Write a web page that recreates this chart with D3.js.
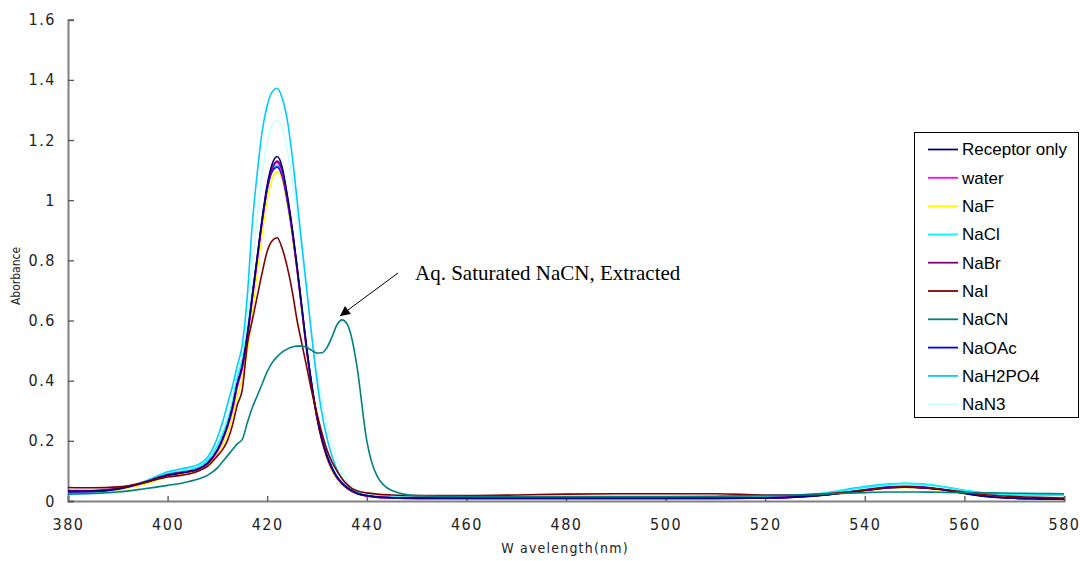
<!DOCTYPE html>
<html>
<head>
<meta charset="utf-8">
<script src="https://cdn.jsdelivr.net/npm/d3@7"></script>
<style>
  html, body { margin: 0; padding: 0; background: #fff; }
  svg { display: block; }
</style>
</head>
<body>
<svg id="chart" width="1080" height="561"></svg>
<script>
// ---------------- DATA ----------------
const wavelengths = [380,385,390,395,400,403,406,408,410,411,412,413,414,415,416,417,418,419,420,421,422,423,424,425,426,427,428,429,430,431,432,433,434,435,436,437,438,440,442,445,450,460,470,480,490,500,510,520,525,530,535,540,545,548,550,555,560,565,570,575,580];

const receptorOnly = [0.032,0.033,0.040,0.060,0.085,0.094,0.105,0.125,0.170,0.205,0.250,0.310,0.390,0.450,0.550,0.680,0.810,0.940,1.050,1.120,1.145,1.110,1.020,0.910,0.780,0.640,0.500,0.380,0.280,0.205,0.150,0.110,0.080,0.060,0.045,0.034,0.026,0.018,0.014,0.011,0.010,0.009,0.009,0.009,0.009,0.009,0.009,0.010,0.012,0.017,0.025,0.035,0.044,0.046,0.045,0.038,0.025,0.014,0.009,0.007,0.006];
const water = [0.034,0.034,0.041,0.060,0.085,0.094,0.104,0.122,0.165,0.200,0.245,0.300,0.380,0.440,0.540,0.670,0.800,0.930,1.040,1.105,1.125,1.090,1.010,0.900,0.770,0.630,0.490,0.375,0.275,0.200,0.145,0.105,0.077,0.057,0.043,0.032,0.025,0.017,0.013,0.011,0.010,0.010,0.010,0.010,0.010,0.010,0.010,0.011,0.013,0.018,0.026,0.036,0.045,0.047,0.046,0.039,0.026,0.015,0.010,0.008,0.007];
const naF = [0.030,0.031,0.037,0.055,0.080,0.090,0.100,0.115,0.155,0.185,0.225,0.280,0.350,0.410,0.500,0.620,0.760,0.890,1.000,1.070,1.095,1.070,0.990,0.885,0.760,0.620,0.485,0.370,0.270,0.195,0.140,0.100,0.073,0.054,0.040,0.030,0.023,0.016,0.012,0.010,0.009,0.009,0.009,0.009,0.009,0.009,0.009,0.010,0.012,0.016,0.024,0.034,0.043,0.045,0.044,0.037,0.024,0.014,0.009,0.007,0.006];
const naCl = [0.028,0.030,0.040,0.063,0.092,0.100,0.112,0.135,0.185,0.220,0.265,0.325,0.410,0.470,0.565,0.690,0.815,0.940,1.045,1.100,1.115,1.085,1.005,0.900,0.775,0.640,0.500,0.385,0.285,0.210,0.155,0.113,0.083,0.062,0.047,0.036,0.028,0.020,0.016,0.013,0.012,0.012,0.012,0.012,0.012,0.012,0.012,0.013,0.016,0.022,0.033,0.045,0.055,0.058,0.057,0.049,0.035,0.025,0.021,0.020,0.020];
const naBr = [0.035,0.035,0.042,0.062,0.088,0.096,0.106,0.126,0.170,0.205,0.250,0.310,0.390,0.450,0.550,0.680,0.810,0.935,1.040,1.105,1.130,1.100,1.015,0.905,0.775,0.635,0.495,0.378,0.278,0.203,0.148,0.108,0.079,0.059,0.044,0.033,0.025,0.017,0.013,0.011,0.010,0.010,0.010,0.010,0.010,0.010,0.010,0.011,0.013,0.018,0.026,0.036,0.045,0.047,0.046,0.039,0.026,0.015,0.010,0.008,0.007];
const naI = [0.045,0.044,0.047,0.060,0.080,0.086,0.098,0.115,0.150,0.170,0.200,0.250,0.320,0.370,0.520,0.600,0.680,0.760,0.830,0.865,0.875,0.840,0.780,0.700,0.600,0.520,0.440,0.360,0.290,0.225,0.170,0.130,0.100,0.075,0.056,0.042,0.034,0.027,0.023,0.020,0.018,0.018,0.020,0.023,0.024,0.024,0.024,0.020,0.020,0.022,0.028,0.036,0.045,0.047,0.046,0.040,0.030,0.020,0.015,0.012,0.010];
const naCN = [0.023,0.025,0.030,0.040,0.052,0.060,0.072,0.085,0.110,0.130,0.150,0.170,0.190,0.205,0.260,0.310,0.350,0.390,0.430,0.460,0.480,0.495,0.505,0.512,0.515,0.515,0.510,0.500,0.492,0.493,0.510,0.545,0.585,0.602,0.590,0.540,0.450,0.200,0.085,0.035,0.018,0.015,0.015,0.015,0.015,0.015,0.016,0.018,0.020,0.022,0.025,0.028,0.030,0.030,0.030,0.029,0.028,0.027,0.026,0.025,0.024];
const naOAc = [0.030,0.031,0.039,0.059,0.086,0.095,0.105,0.124,0.168,0.203,0.248,0.305,0.385,0.445,0.545,0.675,0.805,0.930,1.035,1.095,1.110,1.080,1.000,0.895,0.770,0.632,0.495,0.378,0.280,0.205,0.150,0.110,0.080,0.060,0.045,0.034,0.026,0.018,0.013,0.010,0.008,0.008,0.008,0.008,0.008,0.008,0.008,0.010,0.012,0.017,0.026,0.037,0.047,0.049,0.048,0.040,0.026,0.014,0.009,0.007,0.006];
const naH2PO4 = [0.025,0.027,0.037,0.062,0.097,0.108,0.120,0.145,0.210,0.260,0.320,0.380,0.450,0.520,0.680,0.920,1.090,1.230,1.315,1.360,1.372,1.340,1.270,1.150,1.000,0.845,0.695,0.540,0.400,0.290,0.210,0.150,0.105,0.075,0.053,0.038,0.028,0.018,0.014,0.012,0.011,0.011,0.011,0.011,0.011,0.011,0.011,0.012,0.016,0.023,0.035,0.048,0.057,0.059,0.058,0.050,0.036,0.025,0.021,0.020,0.020];
const naN3 = [0.026,0.028,0.037,0.060,0.092,0.102,0.113,0.135,0.190,0.230,0.280,0.340,0.420,0.480,0.600,0.780,0.950,1.090,1.190,1.250,1.265,1.240,1.170,1.070,0.950,0.820,0.680,0.550,0.430,0.330,0.250,0.190,0.140,0.100,0.072,0.050,0.036,0.022,0.016,0.013,0.012,0.012,0.012,0.012,0.012,0.012,0.012,0.013,0.016,0.022,0.032,0.043,0.052,0.055,0.054,0.046,0.033,0.023,0.019,0.018,0.018];

const seriesNames = ["Receptor only","water","NaF","NaCl","NaBr","NaI","NaCN","NaOAc","NaH2PO4","NaN3"];
const seriesValues = [receptorOnly, water, naF, naCl, naBr, naI, naCN, naOAc, naH2PO4, naN3];
const seriesColors = ["#000080","#FF00FF","#FFFF00","#00FFFF","#800080","#800000","#008080","#0000FF","#00CCFF","#CCFFFF"];

const xTicks = [380,400,420,440,460,480,500,520,540,560,580];
const yTicks = [0,0.2,0.4,0.6,0.8,1,1.2,1.4,1.6];
const xLabel = "W avelength(nm)";
const yLabel = "Aborbance";
const annotationText = "Aq. Saturated NaCN, Extracted";

// ---------------- LAYOUT ----------------
const svg = d3.select("#chart");
const plotLeft = 68, plotRight = 1064, plotTop = 19.7, plotBottom = 501;

const x = d3.scaleLinear().domain([380, 580]).range([plotLeft, plotRight]);
const y = d3.scaleLinear().domain([0, 1.6]).range([plotBottom, plotTop]);

const tickFont = "'Liberation Sans Narrow','DejaVu Sans Condensed',Arial,sans-serif";

// Axes
const xAxis = svg.append("g").attr("transform", `translate(0,${plotBottom})`)
  .call(d3.axisBottom(x).tickValues(xTicks).tickSize(-5).tickPadding(18).tickFormat(d3.format("d")));
const yAxis = svg.append("g").attr("transform", `translate(${plotLeft},0)`)
  .call(d3.axisLeft(y).tickValues(yTicks).tickSize(-6).tickPadding(12).tickFormat(d => String(d)));

[xAxis, yAxis].forEach(g => {
  g.select(".domain").attr("stroke", "#808080").attr("stroke-width", 2);
  g.selectAll(".tick line").attr("stroke", "#555").attr("stroke-width", 1.3);
  g.selectAll(".tick text").attr("fill", "#222").style("font-family", tickFont)
    .style("font-size", "16px").style("letter-spacing", "1.5px");
});

// Axis titles
svg.append("text").attr("x", 565).attr("y", 553).attr("text-anchor", "middle")
  .style("font-family", tickFont).style("font-size", "14px").style("letter-spacing", "1.2px")
  .attr("fill", "#222").text(xLabel);
svg.append("text").attr("transform", "translate(20,276) rotate(-90)").attr("text-anchor", "middle")
  .style("font-family", tickFont).style("font-size", "12px")
  .attr("fill", "#222").text(yLabel);

// Lines
const line = d3.line().x(d => x(d[0])).y(d => y(d[1])).curve(d3.curveMonotoneX);
const drawOrder = [9, 8, 3, 2, 7, 1, 4, 0, 5, 6];
drawOrder.forEach(i => {
  const pts = wavelengths.map((w, k) => [w, seriesValues[i][k]]);
  svg.append("path").datum(pts).attr("d", line)
    .attr("fill", "none").attr("stroke", seriesColors[i]).attr("stroke-width", 1.6);
});

// Legend
const lg = svg.append("g");
lg.append("rect").attr("x", 914.5).attr("y", 132.5).attr("width", 164).attr("height", 285)
  .attr("fill", "#fff").attr("stroke", "#000").attr("stroke-width", 1);
seriesNames.forEach((name, i) => {
  const yy = 149.5 + i * 28.3;
  lg.append("line").attr("x1", 928).attr("x2", 958).attr("y1", yy).attr("y2", yy)
    .attr("stroke", seriesColors[i]).attr("stroke-width", 1.8);
  lg.append("text").attr("x", 962).attr("y", yy).attr("dy", "0.35em")
    .style("font-family", "Arial, 'Liberation Sans', sans-serif").style("font-size", "17px")
    .attr("fill", "#000").text(name);
});

// Annotation
const defs = svg.append("defs");
defs.append("marker").attr("id", "arrow").attr("viewBox", "0 0 10 10")
  .attr("refX", 10).attr("refY", 5).attr("markerWidth", 14).attr("markerHeight", 10)
  .attr("markerUnits", "userSpaceOnUse").attr("orient", "auto")
  .append("path").attr("d", "M0,0 L10,5 L0,10 Z").attr("fill", "#000");
svg.append("line").attr("x1", 398).attr("y1", 273).attr("x2", x(434.6)).attr("y2", y(0.615))
  .attr("stroke", "#000").attr("stroke-width", 1).attr("marker-end", "url(#arrow)");
svg.append("text").attr("x", 415).attr("y", 280)
  .style("font-family", "'Liberation Serif','Times New Roman',serif").style("font-size", "21px")
  .attr("fill", "#000").text(annotationText);
</script>
</body>
</html>
